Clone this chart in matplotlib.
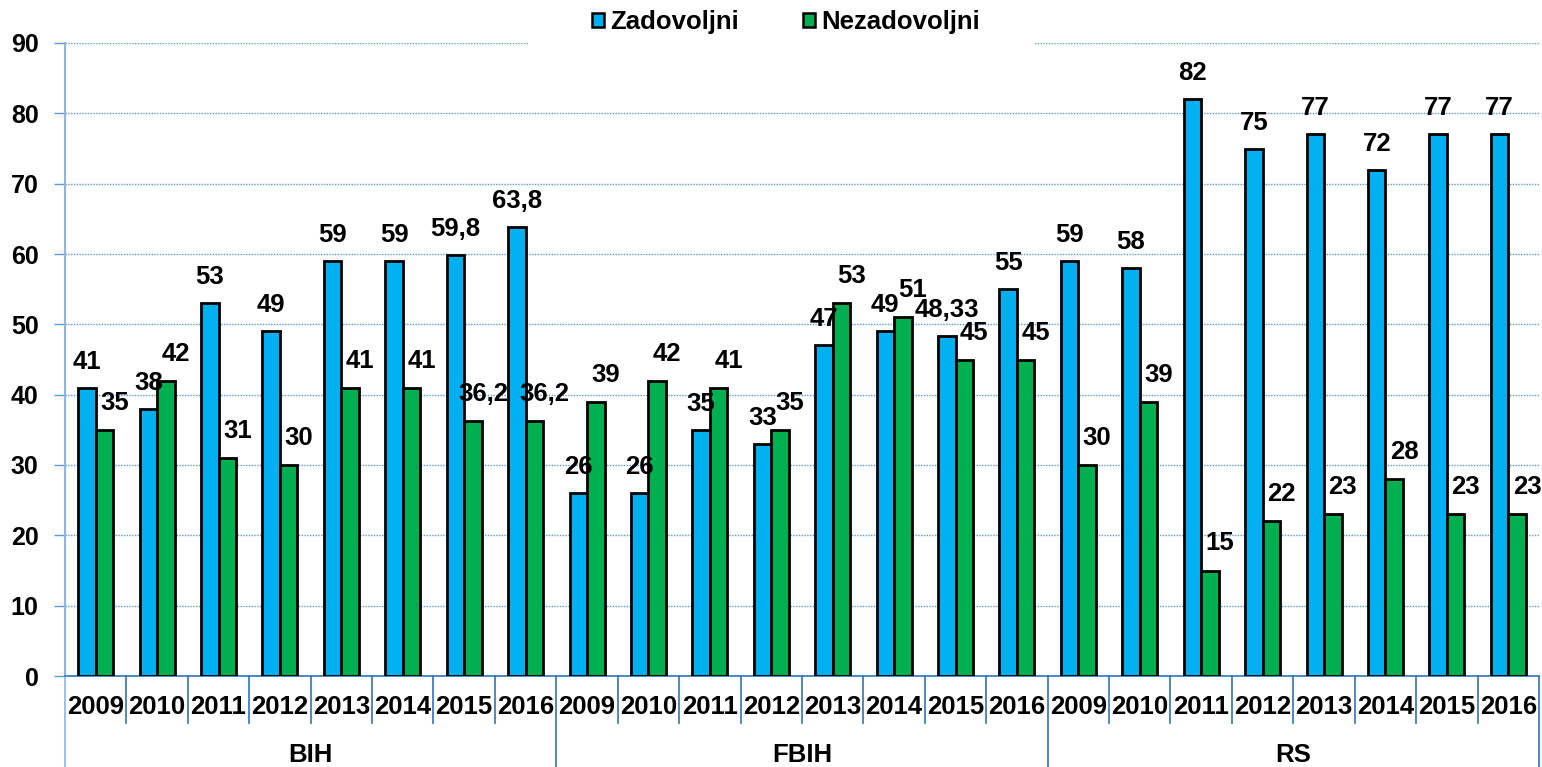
import matplotlib
matplotlib.use("Agg")
import matplotlib.pyplot as plt
import matplotlib.transforms as mtransforms
from matplotlib.patches import Patch, Rectangle

plt.rcParams['font.family'] = ['Liberation Sans', 'DejaVu Sans']
plt.rcParams['font.weight'] = 'bold'

regions = ["BIH", "FBIH", "RS"]
years = ["2009", "2010", "2011", "2012", "2013", "2014", "2015", "2016"]
zadovoljni = [41, 38, 53, 49, 59, 59, 59.8, 63.8,
              26, 26, 35, 33, 47, 49, 48.33, 55,
              59, 58, 82, 75, 77, 72, 77, 77]
nezadovoljni = [35, 42, 31, 30, 41, 41, 36.2, 36.2,
                39, 42, 41, 35, 53, 51, 45, 45,
                30, 39, 15, 22, 23, 28, 23, 23]
yticks = [0, 10, 20, 30, 40, 50, 60, 70, 80, 90]

BLUE = '#00B0F0'
GREEN = '#00B050'
LINE = '#2E75B6'
FS = 18.5

W, H = 1542, 767
fig = plt.figure(figsize=(W / 100, H / 100), dpi=100)
ax = fig.add_axes([65 / W, (H - 676) / H, (1539 - 65) / W, (676 - 43) / H])

n = len(zadovoljni)
xs = list(range(n))
bw = 0.285
xb = [x - bw / 2 for x in xs]
xg = [x + bw / 2 for x in xs]
ax.bar(xb, zadovoljni, width=bw, color=BLUE, edgecolor='black', linewidth=2.0, zorder=3)
ax.bar(xg, nezadovoljni, width=bw, color=GREEN, edgecolor='black', linewidth=2.0, zorder=3)

def fmt(v):
    s = ('%g' % v)
    return s.replace('.', ',')

for x, v in zip(xb, zadovoljni):
    ax.annotate(fmt(v), (x, v), xytext=(0, 26), textcoords='offset pixels',
                ha='center', va='center', fontsize=FS, fontweight='bold', zorder=5)
for x, v in zip(xg, nezadovoljni):
    ax.annotate(fmt(v), (x, v), xytext=(10, 27), textcoords='offset pixels',
                ha='center', va='center', fontsize=FS, fontweight='bold', zorder=5)

ax.set_xlim(-0.5, n - 0.5)
ax.set_ylim(0, 90)
ax.set_yticks(yticks)
ax.set_yticklabels([str(t) for t in yticks], fontsize=18, fontweight='bold')
ax.tick_params(axis='y', length=8, width=1, color='#5B9BD5', pad=11)
ax.set_xticks([])
ax.yaxis.grid(True, color='#5B9BD5', linestyle=(0, (1, 1)), linewidth=1.0, zorder=0)
ax.set_axisbelow(True)

for s in ['top', 'right']:
    ax.spines[s].set_visible(False)
ax.spines['left'].set_color('#8EB4E3')
ax.spines['left'].set_linewidth(1.5)
ax.spines['bottom'].set_color(LINE)
ax.spines['bottom'].set_linewidth(1.2)

trans = mtransforms.blended_transform_factory(ax.transData, ax.transAxes)
ah = 676 - 43
# year labels
for i in range(n):
    ax.text(i, -31 / ah, years[i % len(years)], transform=trans, ha='center', va='center',
            fontsize=FS, fontweight='bold')
# region labels
per = len(years)
for j, r in enumerate(regions):
    cx = j * per + (per - 1) / 2
    ax.text(cx, -79 / ah, r, transform=trans, ha='center', va='center',
            fontsize=FS, fontweight='bold')
# separators
for k in range(n + 1):
    xk = k - 0.5
    if k % per == 0:
        y0 = -91 / ah
        col = '#8EB4E3' if k == 0 else LINE
    else:
        y0 = -47 / ah
        col = LINE
    ax.plot([xk, xk], [0, y0], transform=trans, color=col, linewidth=1.2, clip_on=False)

# white area behind legend (hides the top gridline there)
fig.add_artist(Rectangle((528 / W, (H - 60) / H), (1034 - 528) / W, 60 / H,
                         transform=fig.transFigure, facecolor='white', edgecolor='none', zorder=2))

handles = [Patch(facecolor=BLUE, edgecolor='black', linewidth=1.8),
           Patch(facecolor=GREEN, edgecolor='black', linewidth=1.8)]
leg = fig.legend(handles, ["Zadovoljni", "Nezadovoljni"], loc='center',
                 bbox_to_anchor=(786 / W, (H - 22) / H), ncol=2, frameon=False,
                 prop={'size': FS, 'weight': 'bold'}, handlelength=0.45, handleheight=0.45,
                 handletextpad=0.25, columnspacing=2.5, borderpad=0.2)
leg.set_zorder(3)

fig.savefig('out.png', dpi=100)
